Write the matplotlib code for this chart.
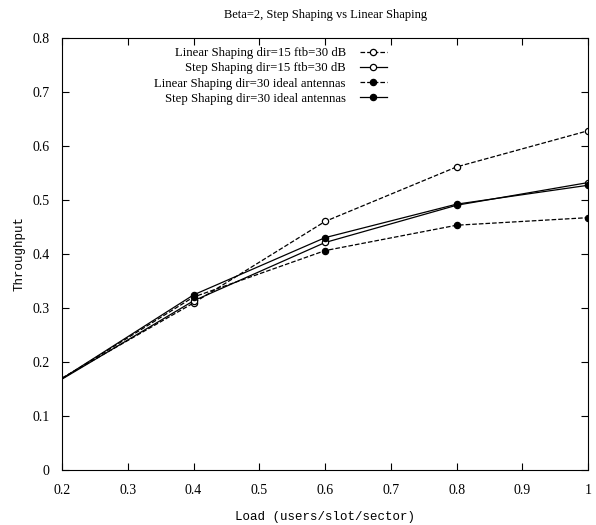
import matplotlib.pyplot as plt

load = [0.2, 0.4, 0.6, 0.8, 1.0]
linear_15 = [0.170, 0.309, 0.460, 0.561, 0.628]
step_15 = [0.168, 0.313, 0.421, 0.490, 0.532]
linear_30 = [0.169, 0.320, 0.406, 0.453, 0.467]
step_30 = [0.169, 0.324, 0.430, 0.492, 0.527]

plt.rcParams['font.family'] = 'Liberation Serif'

fig = plt.figure(figsize=(5.96, 5.25), dpi=100)
ax = fig.add_axes([0.104, 0.105, 0.883, 0.823])

style = dict(lw=0.9, marker='o', ms=4.5, mew=0.9, markevery=[1, 2, 3, 4])
ax.plot(load, linear_15, 'k--', mfc='white', label='Linear Shaping dir=15 ftb=30 dB', **style)
ax.plot(load, step_15, 'k-', mfc='white', label='Step Shaping dir=15 ftb=30 dB', **style)
ax.plot(load, linear_30, 'k--', mfc='black', label='Linear Shaping dir=30 ideal antennas', **style)
ax.plot(load, step_30, 'k-', mfc='black', label='Step Shaping dir=30 ideal antennas', **style)

ax.set_xlim(0.2, 1.0)
ax.set_ylim(0, 0.8)
ax.set_xticks([0.2, 0.3, 0.4, 0.5, 0.6, 0.7, 0.8, 0.9, 1.0])
ax.set_xticklabels(['0.2', '0.3', '0.4', '0.5', '0.6', '0.7', '0.8', '0.9', '1'])
ax.set_yticks([0, 0.1, 0.2, 0.3, 0.4, 0.5, 0.6, 0.7, 0.8])
ax.set_yticklabels(['0', '0.1', '0.2', '0.3', '0.4', '0.5', '0.6', '0.7', '0.8'])
ax.tick_params(direction='in', top=True, right=True, length=5, labelsize=10)
ax.tick_params(axis='x', pad=10)
ax.tick_params(axis='y', pad=9)

ax.set_xlabel('Load (users/slot/sector)', family='Liberation Mono', fontsize=9, labelpad=10)
ax.set_ylabel('Throughput', family='Liberation Mono', fontsize=9, labelpad=5)
ax.set_title('Beta=2, Step Shaping vs Linear Shaping', fontsize=9, pad=14)

leg = ax.legend(loc='upper right', bbox_to_anchor=(388 / 596, 1 - 46 / 525),
                bbox_transform=fig.transFigure, frameon=False,
                markerfirst=False, fontsize=9.2, handlelength=2.1,
                labelspacing=0.25, borderaxespad=0, borderpad=0.1,
                handletextpad=1.1)
for t in leg.get_texts():
    t.set_ha('right')
leg._legend_box.align = 'right'

fig.savefig('out.png', dpi=100)
